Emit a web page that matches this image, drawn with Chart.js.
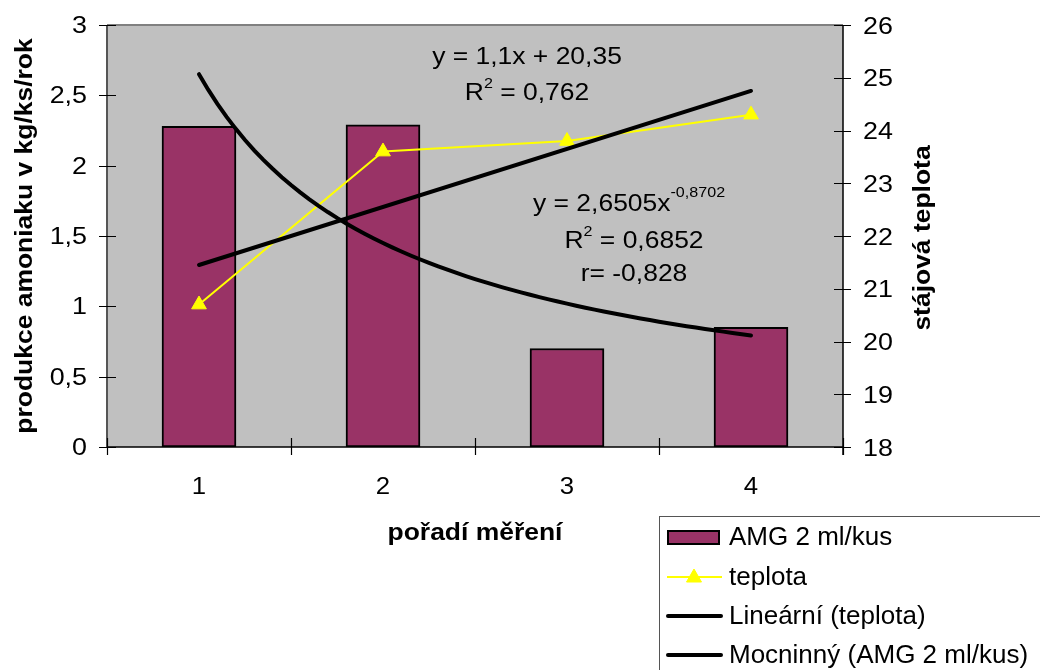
<!DOCTYPE html>
<html>
<head>
<meta charset="utf-8">
<script src="https://cdn.jsdelivr.net/npm/chart.js@4.4.0/dist/chart.umd.min.js"></script>
<style>
  html, body { margin: 0; padding: 0; background: #ffffff; }
  #wrap { width: 1040px; height: 670px; }
</style>
</head>
<body>
<div id="wrap"><canvas id="c" width="1040" height="670"></canvas></div>
<script>
// ---- data ----
const categories = ['1', '2', '3', '4'];
const amg = [2.28, 2.29, 0.70, 0.85];            // produkce amoniaku (kg/ks/rok)
const teplota = [20.7, 23.6, 23.8, 24.3];        // stájová teplota
const linSlope = 1.1, linIntercept = 20.35, linR2 = 0.762;          // lineární trend teploty
const powCoef = 2.6505, powExp = -0.8702, powR2 = 0.6852, powR = -0.828; // mocninný trend AMG
const leftTicks = [0, 0.5, 1, 1.5, 2, 2.5, 3];
const rightTicks = [18, 19, 20, 21, 22, 23, 24, 25, 26];
const seriesNames = ['AMG 2 ml/kus', 'teplota', 'Lineární (teplota)', 'Mocninný (AMG 2 ml/kus)'];
const xTitle = 'pořadí měření';
const yTitle = 'produkce amoniaku v kg/ks/rok';
const y2Title = 'stájová teplota';

const fmt = v => String(v).replace('.', ',');

// trend lines over the span of the measurements (1 .. 4)
const trendX = [];
for (let i = 0; i <= 60; i++) trendX.push(1 + i * 0.05);
const linTrend = [1, 4].map(x => ({ x, y: linSlope * x + linIntercept }));
const powTrend = trendX.map(x => ({ x, y: powCoef * Math.pow(x, powExp) }));

const FONT = '"Liberation Sans", Arial, sans-serif';
const BAR_FILL = '#993366';
const YELLOW = '#ffff00';

function text(ctx, str, x, y, opts) {
  const o = Object.assign({ size: 24, bold: false, align: 'left', stretch: 1, rotate: 0 }, opts || {});
  ctx.save();
  ctx.translate(x, y);
  if (o.rotate) ctx.rotate(o.rotate);
  ctx.scale(o.stretch, 1);
  ctx.font = (o.bold ? 'bold ' : '') + o.size + 'px ' + FONT;
  ctx.textAlign = o.align;
  ctx.textBaseline = 'alphabetic';
  ctx.fillStyle = '#000';
  ctx.fillText(str, 0, 0);
  ctx.restore();
}

// text made of [string, isSuperscript] runs; x is the centre or the left edge
function richText(ctx, runs, x, y, opts) {
  const o = Object.assign({ size: 23, supSize: 14, rise: 12, stretch: 1.15, align: 'center' }, opts || {});
  let total = 0;
  const widths = runs.map(([s, sup]) => {
    ctx.font = (sup ? o.supSize : o.size) + 'px ' + FONT;
    const w = ctx.measureText(s).width;
    total += w;
    return w;
  });
  let cx = o.align === 'center' ? x - total * o.stretch / 2 : x;
  runs.forEach(([s, sup], i) => {
    text(ctx, s, cx, sup ? y - o.rise : y, { size: sup ? o.supSize : o.size, stretch: o.stretch });
    cx += widths[i] * o.stretch;
  });
}

const frame = {
  id: 'frame',
  beforeDatasetsDraw(chart) {
    const { ctx, chartArea: a } = chart;
    ctx.save();
    ctx.fillStyle = '#c0c0c0';
    ctx.fillRect(a.left, a.top, a.right - a.left, a.bottom - a.top);
    ctx.restore();
  },
  afterDatasetsDraw(chart) {
    const { ctx, chartArea: a } = chart;
    const sy = chart.scales.y, sy2 = chart.scales.y2, sx = chart.scales.x, sxl = chart.scales.xl;
    ctx.save();
    // plot area border and axes
    ctx.strokeStyle = '#808080';
    ctx.lineWidth = 2;
    ctx.beginPath();
    ctx.moveTo(a.left, a.top); ctx.lineTo(a.right, a.top);
    ctx.stroke();
    ctx.strokeStyle = '#555';
    ctx.beginPath();
    ctx.moveTo(a.left, a.top); ctx.lineTo(a.left, a.bottom);
    ctx.stroke();
    ctx.strokeStyle = '#000';
    ctx.lineWidth = 1.5;
    ctx.beginPath();
    ctx.moveTo(a.right, a.top); ctx.lineTo(a.right, a.bottom + 8);
    ctx.moveTo(a.left, a.bottom); ctx.lineTo(a.right, a.bottom);
    ctx.stroke();

    // tick marks
    ctx.lineWidth = 1.2;
    ctx.beginPath();
    leftTicks.forEach(v => {
      const p = Math.round(sy.getPixelForValue(v)) + 0.5;
      ctx.moveTo(a.left - 8, p); ctx.lineTo(a.left + 9, p);
    });
    rightTicks.forEach(v => {
      const p = Math.round(sy2.getPixelForValue(v)) + 0.5;
      ctx.moveTo(a.right - 9, p); ctx.lineTo(a.right + 8, p);
    });
    for (let i = 0; i <= categories.length; i++) {
      const p = Math.round(sxl.getPixelForValue(0.5 + i)) + 0.5;
      ctx.moveTo(p, a.bottom - 9); ctx.lineTo(p, a.bottom + 8);
    }
    ctx.stroke();
    ctx.restore();

    // tick labels
    leftTicks.forEach(v => text(ctx, fmt(v), a.left - 20, sy.getPixelForValue(v) + 8, { size: 24, align: 'right', stretch: 1.12 }));
    rightTicks.forEach(v => text(ctx, fmt(v), a.right + 20, sy2.getPixelForValue(v) + 8.5, { size: 24, align: 'left', stretch: 1.12 }));
    categories.forEach((c, i) => text(ctx, c, sx.getPixelForValue(i), a.bottom + 47, { size: 23, align: 'center', stretch: 1.12 }));

    // axis titles
    text(ctx, xTitle, 475, 540, { size: 23, bold: true, align: 'center', stretch: 1.15 });
    text(ctx, yTitle, 32, 236, { size: 23, bold: true, align: 'center', stretch: 1.15, rotate: -Math.PI / 2 });
    text(ctx, y2Title, 930, 238, { size: 23, bold: true, align: 'center', stretch: 1.15, rotate: -Math.PI / 2 });

    // trend line equations
    richText(ctx, [['y = ' + fmt(linSlope) + 'x + ' + fmt(linIntercept), false]], 527, 63.5);
    richText(ctx, [['R', false], ['2', true], [' = ' + fmt(linR2), false]], 527, 100);
    richText(ctx, [['y = ' + fmt(powCoef) + 'x', false], [fmt(powExp), true]], 533, 211, { align: 'left', rise: 14 });
    richText(ctx, [['R', false], ['2', true], [' = ' + fmt(powR2), false]], 634, 248);
    richText(ctx, [['r= ' + fmt(powR), false]], 634, 281);

    // legend
    ctx.save();
    ctx.strokeStyle = '#555';
    ctx.lineWidth = 1;
    ctx.strokeRect(659.5, 516.5, 600, 300);
    const rows = [545, 585, 624, 663];
    const ds = chart.data.datasets;
    // bar swatch
    ctx.fillStyle = ds[0].backgroundColor;
    ctx.fillRect(667, 530, 53, 15);
    ctx.strokeStyle = '#000';
    ctx.lineWidth = 2;
    ctx.strokeRect(668, 531, 51, 13);
    // teplota swatch
    ctx.strokeStyle = ds[1].borderColor;
    ctx.lineWidth = 2;
    ctx.beginPath(); ctx.moveTo(667, rows[1] - 8); ctx.lineTo(722, rows[1] - 8); ctx.stroke();
    ctx.fillStyle = YELLOW;
    ctx.strokeStyle = YELLOW;
    ctx.lineWidth = 1;
    ctx.beginPath();
    ctx.moveTo(694, rows[1] - 16); ctx.lineTo(701.5, rows[1] - 3); ctx.lineTo(686.5, rows[1] - 3); ctx.closePath();
    ctx.fill(); ctx.stroke();
    // trend swatches
    ctx.strokeStyle = '#000';
    ctx.lineWidth = 4;
    ctx.lineCap = 'round';
    [2, 3].forEach(i => {
      ctx.beginPath(); ctx.moveTo(668, rows[i] - 8); ctx.lineTo(721, rows[i] - 8); ctx.stroke();
    });
    ctx.restore();
    seriesNames.forEach((n, i) => text(ctx, n, 729, rows[i], { size: 26, align: 'left', stretch: 1 }));
  }
};

new Chart(document.getElementById('c'), {
  data: {
    labels: categories,
    datasets: [
      {
        type: 'bar', label: seriesNames[0], data: amg, xAxisID: 'x', yAxisID: 'y',
        backgroundColor: BAR_FILL, borderColor: '#000', borderWidth: 2, borderSkipped: false,
        grouped: false, barThickness: 74, order: 4
      },
      {
        type: 'line', label: seriesNames[1], data: teplota, xAxisID: 'x', yAxisID: 'y2',
        borderColor: YELLOW, borderWidth: 2, tension: 0,
        pointStyle: 'triangle', pointRadius: 8.5, pointBackgroundColor: YELLOW,
        pointBorderColor: YELLOW, pointBorderWidth: 1, order: 3
      },
      {
        type: 'line', label: seriesNames[2], data: linTrend, xAxisID: 'xl', yAxisID: 'y2',
        borderColor: '#000', borderWidth: 4, borderCapStyle: 'round', pointRadius: 0, order: 2
      },
      {
        type: 'line', label: seriesNames[3], data: powTrend, xAxisID: 'xl', yAxisID: 'y',
        borderColor: '#000', borderWidth: 4, borderCapStyle: 'round', pointRadius: 0, tension: 0, order: 1
      }
    ]
  },
  options: {
    responsive: false,
    animation: false,
    devicePixelRatio: 1,
    layout: { padding: { top: 25, left: 0, right: 0, bottom: 0 } },
    plugins: { legend: { display: false }, tooltip: { enabled: false } },
    scales: {
      x: {
        type: 'category', position: 'bottom', offset: true,
        grid: { display: false, drawTicks: false }, border: { display: false },
        ticks: { display: false },
        afterFit: s => { s.height = 223; }
      },
      xl: { type: 'linear', position: 'bottom', display: false, min: 0.5, max: 4.5 },
      y: {
        type: 'linear', position: 'left', min: 0, max: 3,
        grid: { display: false, drawTicks: false }, border: { display: false },
        ticks: { display: false, stepSize: 0.5 },
        afterFit: s => { s.width = 107; }
      },
      y2: {
        type: 'linear', position: 'right', min: 18, max: 26,
        grid: { display: false, drawTicks: false }, border: { display: false },
        ticks: { display: false, stepSize: 1 },
        afterFit: s => { s.width = 197; }
      }
    }
  },
  plugins: [frame]
});
</script>
</body>
</html>
